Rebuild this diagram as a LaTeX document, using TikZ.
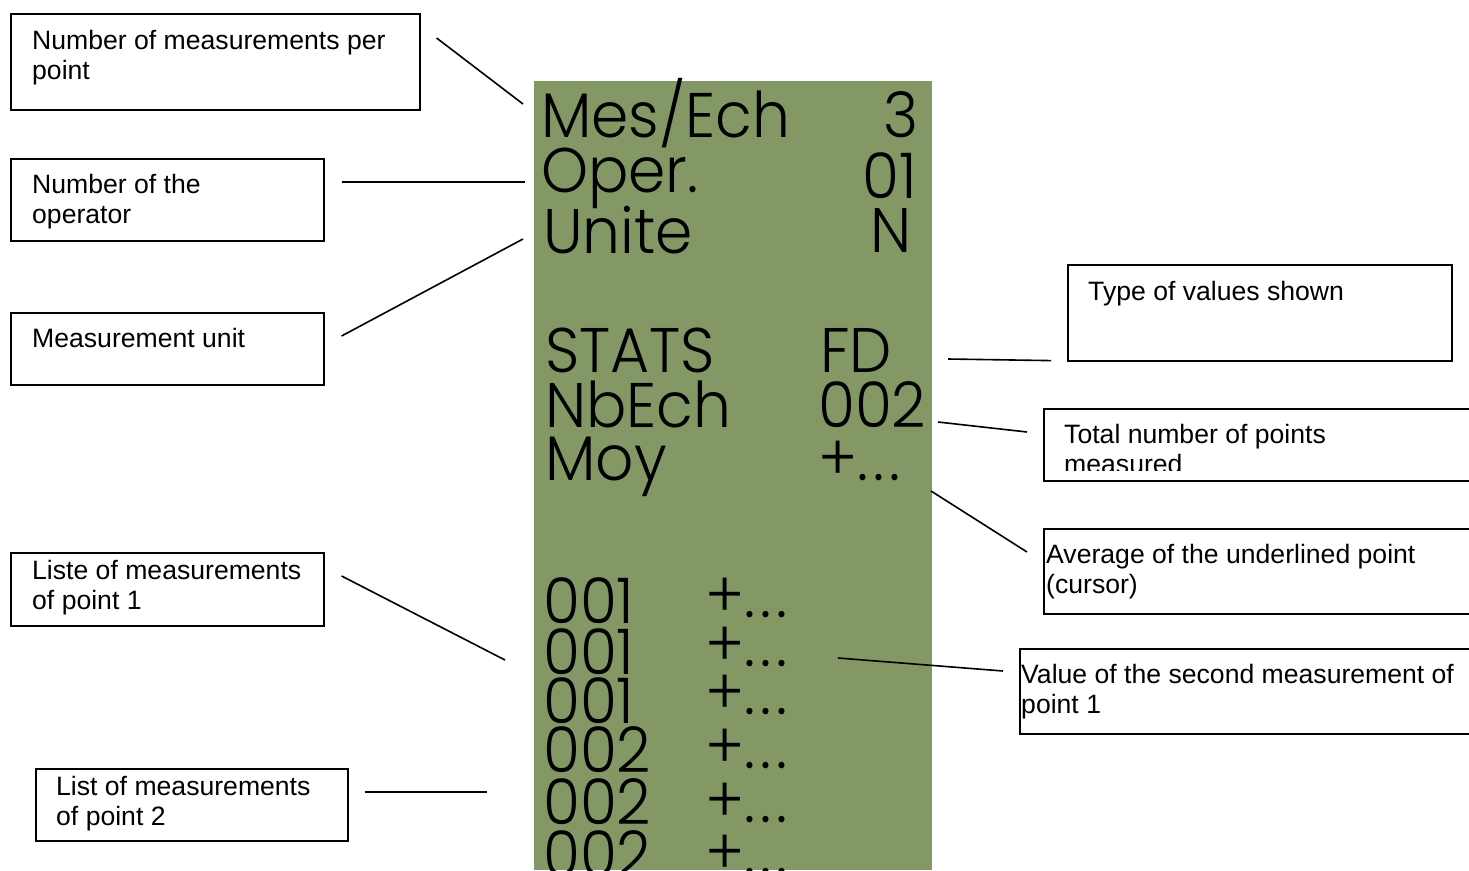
\documentclass[tikz,border=0pt]{standalone}
\usepackage{fontspec}
\setmainfont{Liberation Sans}
\newfontfamily\lcdfont[FakeStretch=0.95, UprightFont=* Light]{Poppins}
\usepackage{tikz}
\usetikzlibrary{positioning}
\definecolor{lcdgreen}{HTML}{849865}
\newcommand{\lblfont}{\fontsize{26.6}{30.5}\selectfont}
\newcommand{\lcdsize}{\fontsize{63}{63}\lcdfont}
\newcommand{\plusdots}{+.\kern5pt.\kern5pt.}

\begin{document}
\begin{tikzpicture}[
    x=1pt, y=-1pt,
    box/.style={draw, line width=1.6pt, inner sep=0pt, anchor=north west},
    lbl/.style={inner sep=0pt, align=left, font=\lblfont},
    lcd/.style={inner sep=0pt, font=\lcdsize},
    link/.style={line width=1.6pt}
]
\useasboundingbox (0,0) rectangle (1469,870);
\clip (0,0) rectangle (1469,870);

% Display
\fill[lcdgreen] (534,81) rectangle (932,870);
\node[lcd, anchor=base west] (mes)   at (541,137) {Mes/Ech};
\node[lcd, anchor=base east] (mesV)  at (919,137) {3};
\node[lcd, anchor=base west] (oper)  at (541,192) {Oper.};
\node[lcd, anchor=base east] (operV) at (917,198) {01};
\node[lcd, anchor=base west] (unit)  at (543,253) {Unite};
\node[lcd, anchor=base east] (unitV) at (912,252) {N};
\node[lcd, anchor=base west] (stats)  at (545,372) {STATS};
\node[lcd, anchor=base west] (statsV) at (820,372) {FD};
\node[lcd, anchor=base west] (nb)     at (545,427) {NbEch};
\node[lcd, anchor=base west] (nbV)    at (818,427) {002};
\node[lcd, anchor=base west] (moy)    at (545,480) {Moy};
\node[lcd, anchor=base west] (moyV)   at (818,480) {\plusdots};
\node[lcd, anchor=base west] (rowA)  at (543,623) {001};
\node[lcd, anchor=base west] (rowAV) at (705,617) {\plusdots};
\node[lcd, anchor=base west] (rowB)  at (543,674) {001};
\node[lcd, anchor=base west] (rowBV) at (705,666) {\plusdots};
\node[lcd, anchor=base west] (rowC)  at (543,723) {001};
\node[lcd, anchor=base west] (rowCV) at (705,714) {\plusdots};
\node[lcd, anchor=base west] (rowD)  at (543,772) {002};
\node[lcd, anchor=base west] (rowDV) at (705,768) {\plusdots};
\node[lcd, anchor=base west] (rowE)  at (543,824) {002};
\node[lcd, anchor=base west] (rowEV) at (705,822) {\plusdots};
\node[lcd, anchor=base west] (rowF)  at (543,876) {002};
\node[lcd, anchor=base west] (rowFV) at (705,874) {\plusdots};

% Left labels
\node[box, minimum width=409, minimum height=96] (bxPerPt) at (10,13) {};
\node[lbl, below right=17pt and 22pt of bxPerPt.north west] (txPerPt) {Number of measurements per\\point};
\node[box, minimum width=313, minimum height=82] (bxOper) at (10,158) {};
\node[lbl, below right=16pt and 22pt of bxOper.north west] (txOper) {Number of the\\operator};
\node[box, minimum width=313, minimum height=72] (bxUnit) at (10,312) {};
\node[lbl, below right=16pt and 22pt of bxUnit.north west] (txUnit) {Measurement unit};
\node[box, minimum width=313, minimum height=73] (bxPt1) at (10,552) {};
\node[lbl, below right=8pt and 22pt of bxPt1.north west] (txPt1) {Liste of measurements\\of point 1};
\node[box, minimum width=312, minimum height=72] (bxPt2) at (35,768) {};
\node[lbl, below right=8pt and 21pt of bxPt2.north west] (txPt2) {List of measurements\\of point 2};

% Right labels
\node[box, minimum width=384, minimum height=96] (bxType) at (1067,264) {};
\node[lbl, below right=17pt and 21pt of bxType.north west] (txType) {Type of values shown};
\node[box, minimum width=460, minimum height=72] (bxTotal) at (1043,408) {};
\begin{scope}
\clip (bxTotal.north west) rectangle ([yshift=11pt]bxTotal.south east);
\node[lbl, below right=16pt and 21pt of bxTotal.north west] (txTotal) {Total number of points\\measured};
\end{scope}
\node[box, minimum width=460, minimum height=85] (bxAvg) at (1043,528) {};
\node[lbl, below right=16pt and 3pt of bxAvg.north west] (txAvg) {Average of the underlined point\\(cursor)};
\node[box, minimum width=480, minimum height=85] (bxSecond) at (1019,648) {};
\node[lbl, below right=16pt and 2pt of bxSecond.north west] (txSecond) {Value of the second measurement of\\point 1};

% Connectors
\coordinate (pMes) at (523,104);
\coordinate (pOper) at (525,182);
\coordinate (pUnit) at (523,239);
\coordinate (pPt1) at (505,660);
\coordinate (pPt2) at (487,792);
\coordinate (pType) at (948,359);
\coordinate (pNb) at (938,422);
\coordinate (pMoy) at (931,491);
\coordinate (pSecond) at (838,658);
\draw[link] ([xshift=16pt, yshift=-25pt]bxPerPt.north east) -- (pMes);
\draw[link] ([xshift=17pt, yshift=-24pt]bxOper.north east) -- (pOper);
\draw[link] ([xshift=17pt, yshift=-24pt]bxUnit.north east) -- (pUnit);
\draw[link] ([xshift=17pt, yshift=-24pt]bxPt1.north east) -- (pPt1);
\draw[link] ([xshift=16pt, yshift=-24pt]bxPt2.north east) -- (pPt2);
\draw[link] (pType) -- ([xshift=-16pt, yshift=1pt]bxType.south west);
\draw[link] (pNb) -- ([xshift=-16pt, yshift=-24pt]bxTotal.north west);
\draw[link] (pMoy) -- ([xshift=-16pt, yshift=-24pt]bxAvg.north west);
\draw[link] (pSecond) -- ([xshift=-16pt, yshift=-23pt]bxSecond.north west);
\end{tikzpicture}
\end{document}
